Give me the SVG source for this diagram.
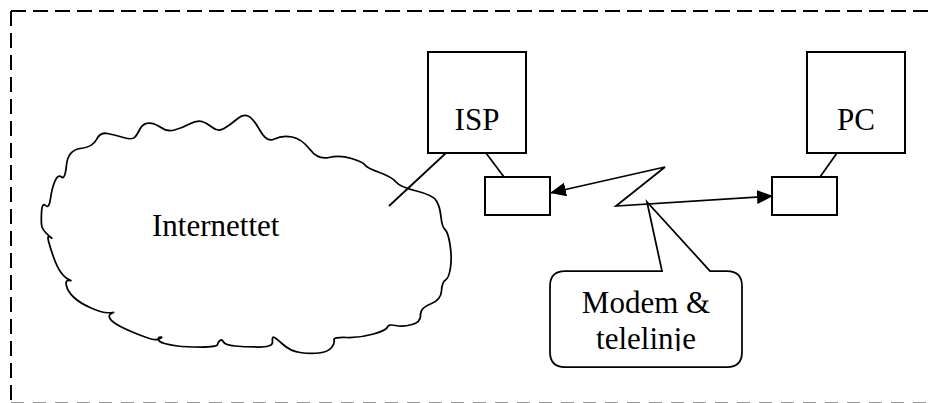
<svg xmlns="http://www.w3.org/2000/svg" width="933" height="403" viewBox="0 0 933 403">
<style>
.box{fill:#fff;stroke:#000;stroke-width:2}
.ln{fill:none;stroke:#000;stroke-width:1.75}
.t{font-family:"Liberation Serif","Times New Roman",serif;font-size:31px;fill:#000}
</style>
<defs>
<marker id="ah" markerUnits="userSpaceOnUse" markerWidth="17" markerHeight="14" refX="16" refY="7" orient="auto-start-reverse">
<path d="M0,0 L16,7 L0,14 Z" fill="#000"/>
</marker>
<clipPath id="cc"><rect x="550" y="271" width="192" height="80"/></clipPath>
</defs>
<rect width="933" height="403" fill="#fff"/>
<g id="frame">
<path d="M11,11 H933" fill="none" stroke="#000" stroke-width="2" stroke-dasharray="15 7"/>
<path d="M11,11 V401" fill="none" stroke="#000" stroke-width="2" stroke-dasharray="15 7"/>
<path d="M11,402.5 H933" fill="none" stroke="#999" stroke-width="1" stroke-dasharray="13 9"/>
</g>
<g id="internet">
<path class="ln" d="M42,227 Q41,224 41.5,213 Q42,202 45.5,205.5 Q49,209 50.5,198.5 Q52,188 55,181 Q58,174 61.5,177 Q65,180 66.5,165 Q68,150 80.5,148.5 Q93,147 96.5,139.5 Q100,132 107.5,133.5 Q115,135 123.5,137.5 Q132,140 134.5,137.5 Q137,135 140,129 Q143,123 149,123 Q155,123 161,127.5 Q167,132 174.5,130 Q182,128 189.5,124 Q197,120 202,121.5 Q207,123 212.5,127.5 Q218,132 224,128.5 Q230,125 236.5,119.5 Q243,114 248,116 Q253,118 260,130.5 Q267,143 274.5,139 Q282,135 292,137 Q302,139 310,149.5 Q318,160 329,157.5 Q340,155 351.5,158.5 Q363,162 365,165 Q367,168 379.5,172.5 Q392,177 396,182 Q400,187 416.5,191 Q433,195 436.5,201 Q440,207 441,217 Q442,227 445,229.5 Q448,232 450,244.5 Q452,257 450.5,267.5 Q449,278 445.5,280 Q442,282 441.5,291 Q441,300 430.5,304 Q420,308 420.5,315 Q421,322 412,324.5 Q403,327 395.5,325.5 Q388,324 387.5,327 Q387,330 373.5,334 Q360,338 346.5,337.5 Q333,337 334,340 Q335,343 331.5,347.5 Q328,352 319,353 Q310,354 300,352.5 Q290,351 282.5,344 Q275,337 273.5,337 Q272,337 272.5,342 Q273,347 259,347 Q245,347 235,346 Q225,345 223.5,342 Q222,339 220,340.5 Q218,342 217.5,344.5 Q217,347 201,347 Q185,347 177.5,346 Q170,345 164.5,343.5 Q159,342 158.5,339.5 Q158,337 160.5,337 Q163,337 160,338.5 Q157,340 153.5,339.5 Q150,339 138.5,334.5 Q127,330 119.5,326 Q112,322 110,318.5 Q108,315 111.5,313.5 Q115,312 112.5,312.5 Q110,313 105,312.5 Q100,312 90,307.5 Q80,303 74,297.5 Q68,292 66.5,286 Q65,280 69,280.5 Q73,281 69,279.5 Q65,278 61,272.5 Q57,267 53.5,257 Q50,247 48.5,241 Q47,235 50,237 Q53,239 51,237.5 Q49,236 46,233 Q43,230 42,227 Z"/>
<text class="t" x="152" y="236">Internettet</text>
</g>
<g id="isp">
<rect class="box" x="428" y="52" width="98" height="101"/>
<text class="t" x="477" y="130" text-anchor="middle">ISP</text>
</g>
<g id="pc">
<rect class="box" x="807" y="52" width="98" height="101"/>
<text class="t" x="856" y="130" text-anchor="middle">PC</text>
</g>
<g id="modem-isp">
<rect class="box" x="485" y="177" width="65" height="38"/>
</g>
<g id="modem-pc">
<rect class="box" x="772" y="177" width="65" height="38"/>
</g>
<g id="callout">
<path class="ln" d="M565,271 L662,271 L647,202 L710,271 L727,271 Q742,271 742,286 L742,352 Q742,367 727,367 L565,367 Q550,367 550,352 L550,286 Q550,271 565,271 Z" fill="#fff"/>
<g clip-path="url(#cc)">
<text class="t" x="646" y="313" text-anchor="middle">Modem &amp;</text>
<text class="t" x="646" y="349" text-anchor="middle">telelinje</text>
</g>
</g>
<g id="connectors">
<path class="ln" d="M446,153 L389,206"/>
<path class="ln" d="M486,153 L504,177"/>
<path class="ln" d="M837,153 L820,177"/>
<path class="ln" d="M550,193 L665,167 L616,206 L773,196" marker-start="url(#ah)" marker-end="url(#ah)"/>
</g>
</svg>
